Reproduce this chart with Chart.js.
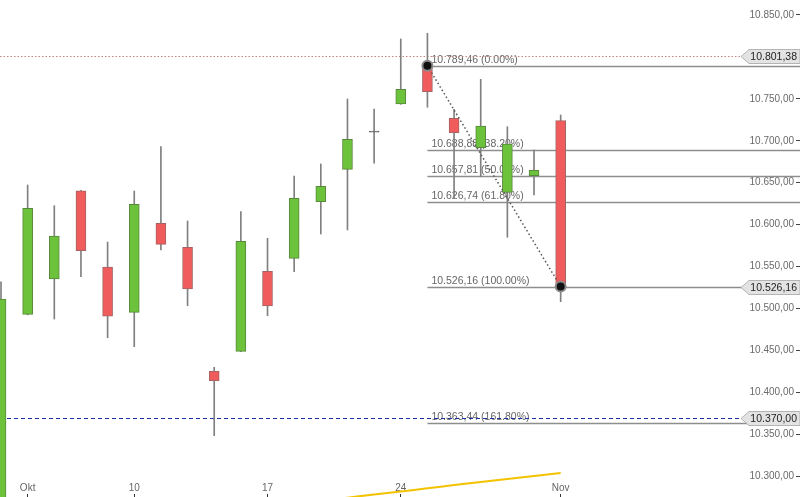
<!DOCTYPE html>
<html><head><meta charset="utf-8">
<script src="https://cdn.jsdelivr.net/npm/chart.js@4/dist/chart.umd.min.js"></script>
<style>html,body{margin:0;padding:0;background:#fff;overflow:hidden}canvas{display:block}</style>
</head><body>
<canvas id="c" width="800" height="497"></canvas>
<script>
// trading days (DAX, Sep 30 – Nov 1)
const dates = ['30.09','04.10','05.10','06.10','07.10','10.10','11.10','12.10','13.10','14.10','17.10','18.10','19.10','20.10','21.10','24.10','25.10','26.10','27.10','28.10','31.10','01.11'];
const opens  = [10260.0,10493.1,10535.2,10640.5,10549.5,10495.5,10601.6,10573.0,10425.2,10449.0,10544.4,10559.9,10627.4,10666.0,10710.9,10743.9,10789.46,10726.8,10691.8,10638.6,10658.4,10724.0];
const highs  = [10532.0,10647.3,10622.6,10641.0,10579.3,10640.2,10693.0,10604.4,10430.0,10615.5,10583.8,10658.0,10672.4,10749.8,10737.9,10821.4,10828.2,10737.6,10773.3,10716.8,10689.0,10730.8];
const lows   = [10250.0,10492.5,10487.5,10538.0,10465.2,10454.5,10569.8,10503.4,10348.4,10448.5,10491.5,10544.0,10588.9,10593.7,10673.2,10743.5,10740.0,10631.5,10657.2,10585.0,10635.4,10508.2];
const closes = [10511.4,10619.5,10586.5,10569.0,10490.8,10624.3,10576.6,10523.3,10414.0,10580.2,10503.0,10631.5,10645.8,10701.8,10710.9,10761.4,10758.6,10709.7,10717.7,10696.2,10664.8,10526.16];
// moving average (yellow)
const maIdx  = [12,13,14,15,16,17,18,19,20,21];
const maVals = [10270.8,10274.5,10278.3,10281.9,10285.7,10289.5,10293.2,10296.9,10300.5,10303.9];
// axis ticks
const xTickIdx = [1,5,10,15,21];
const xTickLabels = ['Okt','10','17','24','Nov'];
const yTicks = [10300,10350,10400,10450,10500,10550,10600,10650,10700,10750,10800,10850];
// fibonacci retracement
const fibStartIdx = 16, fibEndIdx = 21;
const fibValues = [10789.46,10688.88,10657.81,10626.74,10526.16,10363.44];
const fibPcts   = ['0.00%','38.20%','50.00%','61.80%','100.00%','161.80%'];
// horizontal reference lines and price tags
const lastPrice = 10801.38;
const supportLevel = 10370.00;
const tagValues = [10801.38,10526.16,10370.00];

function fmt(v){
  const p = v.toFixed(2).split('.');
  return p[0].replace(/\B(?=(\d{3})+(?!\d))/g,'.') + ',' + p[1];
}

const FONT = '"Liberation Sans", Arial, sans-serif';
Chart.defaults.font.family = FONT;
Chart.defaults.font.size = 10;

const bodyData = dates.map((d,i)=>{
  let o = opens[i], c = closes[i];
  if (o === c) { o -= 0.6; c += 0.6; }
  return {x:i, y:[o,c]};
});
const bodyFill = dates.map((d,i)=> closes[i]>opens[i] ? '#6cc23a' : (closes[i]<opens[i] ? '#f05b5b' : '#666666'));
const bodyBorder = dates.map((d,i)=> closes[i]>opens[i] ? '#58883c' : (closes[i]<opens[i] ? '#a56464' : '#666666'));
const wickData = dates.map((d,i)=>({x:i, y:[lows[i], highs[i]]}));

const overlay = {
  id:'overlay',
  beforeDatasetsDraw(chart){
    const {ctx, scales:{x,y}} = chart;
    ctx.save();
    const x0 = x.getPixelForValue(fibStartIdx);
    ctx.font = '10.5px ' + FONT;
    fibValues.forEach((v,k)=>{
      const py = Math.round(y.getPixelForValue(v)) + 0.5;
      ctx.strokeStyle = '#8e8e8e'; ctx.lineWidth = 1.3; ctx.setLineDash([]);
      ctx.beginPath(); ctx.moveTo(x0, py); ctx.lineTo(chart.width, py); ctx.stroke();
      ctx.fillStyle = '#666'; ctx.textAlign = 'left'; ctx.textBaseline = 'alphabetic';
      ctx.fillText(fmt(v) + ' (' + fibPcts[k] + ')', x0 + 4, py - 3.5);
    });
    const tip = 741;
    let py = Math.round(y.getPixelForValue(lastPrice)) + 0.5;
    ctx.strokeStyle = '#c48383'; ctx.lineWidth = 1; ctx.setLineDash([1.5,2]);
    ctx.beginPath(); ctx.moveTo(0, py); ctx.lineTo(tip, py); ctx.stroke();
    py = Math.round(y.getPixelForValue(supportLevel)) + 0.5;
    ctx.strokeStyle = '#1f2fa0'; ctx.lineWidth = 1; ctx.setLineDash([4,3]);
    ctx.beginPath(); ctx.moveTo(0, py); ctx.lineTo(tip, py); ctx.stroke();
    ctx.restore();
  },
  afterDatasetsDraw(chart){
    const {ctx, scales:{y}} = chart;
    ctx.save();
    ctx.setLineDash([]);
    tagValues.forEach(v=>{
      const yc = Math.round(y.getPixelForValue(v)) + 0.5;
      const tip = 741, l = 749, r = 800, h = 7;
      ctx.beginPath();
      ctx.moveTo(tip, yc); ctx.lineTo(l, yc - h); ctx.lineTo(r, yc - h); ctx.lineTo(r, yc + h); ctx.lineTo(l, yc + h); ctx.closePath();
      ctx.fillStyle = '#e3e3e3'; ctx.fill();
      ctx.strokeStyle = '#b4b4b4'; ctx.lineWidth = 1; ctx.stroke();
      ctx.fillStyle = '#1e1e1e'; ctx.font = '10.5px ' + FONT;
      ctx.textAlign = 'right'; ctx.textBaseline = 'middle';
      ctx.fillText(fmt(v), 797, yc + 0.5);
    });
    ctx.restore();
  }
};

new Chart(document.getElementById('c'), {
  type: 'bar',
  data: {
    datasets: [
      { type:'line', data: maIdx.map((i,k)=>({x:i, y:maVals[k]})), borderColor:'#f3c300', borderWidth:2, pointRadius:0, tension:0.3, order:0, clip:false },
      { type:'line', data: [{x:fibStartIdx, y:fibValues[0]}, {x:fibEndIdx, y:fibValues[4]}], borderColor:'#555', borderWidth:1.5, borderDash:[1.5,2.5],
        pointRadius:5, pointBackgroundColor:'#111', pointBorderColor:'#8a8a8a', pointBorderWidth:2, order:0 },
      { data: bodyData, backgroundColor: bodyFill, borderColor: bodyBorder, borderWidth:1, borderSkipped:false, barThickness:10, grouped:false, order:1, clip:false },
      { data: wickData, backgroundColor:'#808080', borderWidth:0, barThickness:1, grouped:false, order:2, clip:false }
    ]
  },
  options: {
    responsive:false, animation:false, devicePixelRatio:1,
    layout:{ padding:0, autoPadding:false },
    plugins:{ legend:{display:false}, tooltip:{enabled:false} },
    scales:{
      x:{
        type:'linear', position:'bottom', min:-0.0375, max:29.83, offset:false,
        border:{display:false},
        grid:{ drawOnChartArea:false, tickLength:17, color:'#333', offset:false, tickBorderDash:[0,14,3,100] },
        ticks:{ color:'#666', padding:-15, autoSkip:false, maxRotation:0,
          callback:(v)=>{ const k = xTickIdx.indexOf(v); return k>=0 ? xTickLabels[k] : ''; } },
        afterBuildTicks:(s)=>{ s.ticks = xTickIdx.map(v=>({value:v})); },
        afterFit:(s)=>{ s.height = 17; s.paddingLeft = 0; s.paddingRight = 0; }
      },
      y:{
        type:'linear', position:'right', min:10295.6, max:10867.88,
        border:{display:false},
        grid:{ drawOnChartArea:false, tickLength:4, color:'#444' },
        ticks:{ mirror:true, padding:-2, color:'#6a6a6a', callback:(v)=>fmt(v) },
        afterBuildTicks:(s)=>{ s.ticks = yTicks.map(v=>({value:v})); },
        afterFit:(s)=>{ s.width = 4; s.paddingTop = 0; s.paddingBottom = 0; }
      }
    }
  },
  plugins:[overlay]
});
</script>
</body></html>
